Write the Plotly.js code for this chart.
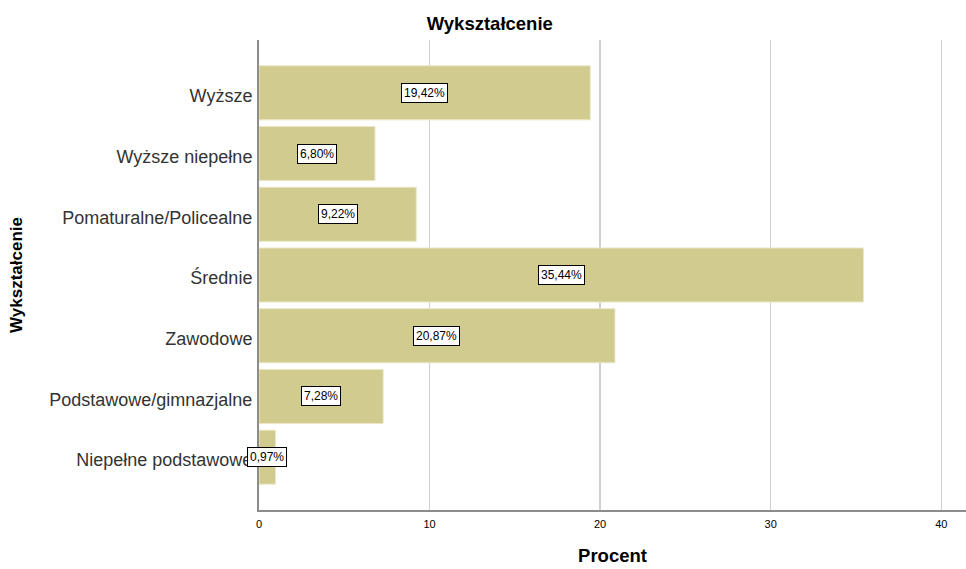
<!DOCTYPE html>
<html><head><meta charset="utf-8">
<script src="https://cdn.plot.ly/plotly-3.0.1.min.js"></script>
<style>html,body{margin:0;padding:0;background:#fff}#chart{width:966px;height:569px}</style>
</head><body><div id="chart"></div>
<script>
const categories = ["Wyższe","Wyższe niepełne","Pomaturalne/Policealne","Średnie","Zawodowe","Podstawowe/gimnazjalne","Niepełne podstawowe"];
const percents = [19.42, 6.80, 9.22, 35.44, 20.87, 7.28, 0.97];
const labels = ["19,42%","6,80%","9,22%","35,44%","20,87%","7,28%","0,97%"];
const xTicks = [0, 10, 20, 30, 40];

const font = "Liberation Sans, Arial, sans-serif";
const annotations = categories.map((c, i) => ({
  x: percents[i] / 2, y: c, xref: 'x', yref: 'y', text: labels[i], showarrow: false,
  font: {family: font, size: 12, color: '#000'}, bgcolor: '#fff', bordercolor: '#000', borderwidth: 1, borderpad: 2
}));

const data = [{
  type: 'bar', orientation: 'h', x: percents, y: categories,
  marker: {color: '#d1cb8f', line: {color: '#ebe7c7', width: 1}},
  width: 0.89, hoverinfo: 'none'
}];

const layout = {
  width: 966, height: 569, paper_bgcolor: '#fff', plot_bgcolor: '#fff',
  margin: {l: 259, r: 0, t: 40, b: 59},
  showlegend: false,
  font: {family: font},
  title: {text: '<b>Wykształcenie</b>', xref: 'container', x: 0.507, xanchor: 'center', y: 0.958, yanchor: 'middle', font: {family: font, size: 18.5, color: '#000'}},
  xaxis: {
    range: [0, 41.45], tickvals: xTicks, ticktext: xTicks.map(String),
    showgrid: true, gridcolor: '#cfcfcf', gridwidth: 1.5, zeroline: false,
    showline: true, linecolor: '#8c8c8c', linewidth: 2, ticks: '', ticklabelstandoff: 3,
    tickfont: {family: font, size: 11, color: '#000'},
    title: {text: '<b>Procent</b>', font: {family: font, size: 18.5, color: '#000'}, standoff: 20}
  },
  yaxis: {
    categoryorder: 'array', categoryarray: categories.slice().reverse(),
    range: [-0.87, 6.87], showgrid: false, zeroline: false,
    showline: true, linecolor: '#8c8c8c', linewidth: 2, ticks: '', ticklabelstandoff: 1, ticklabelshift: 3,
    tickfont: {family: font, size: 18, color: '#333'},
    title: {text: '<b>Wykształcenie</b>', font: {family: font, size: 17, color: '#000'}, standoff: 22}
  },
  annotations: annotations
};
Plotly.newPlot('chart', data, layout, {displayModeBar: false, staticPlot: true});
</script></body></html>
